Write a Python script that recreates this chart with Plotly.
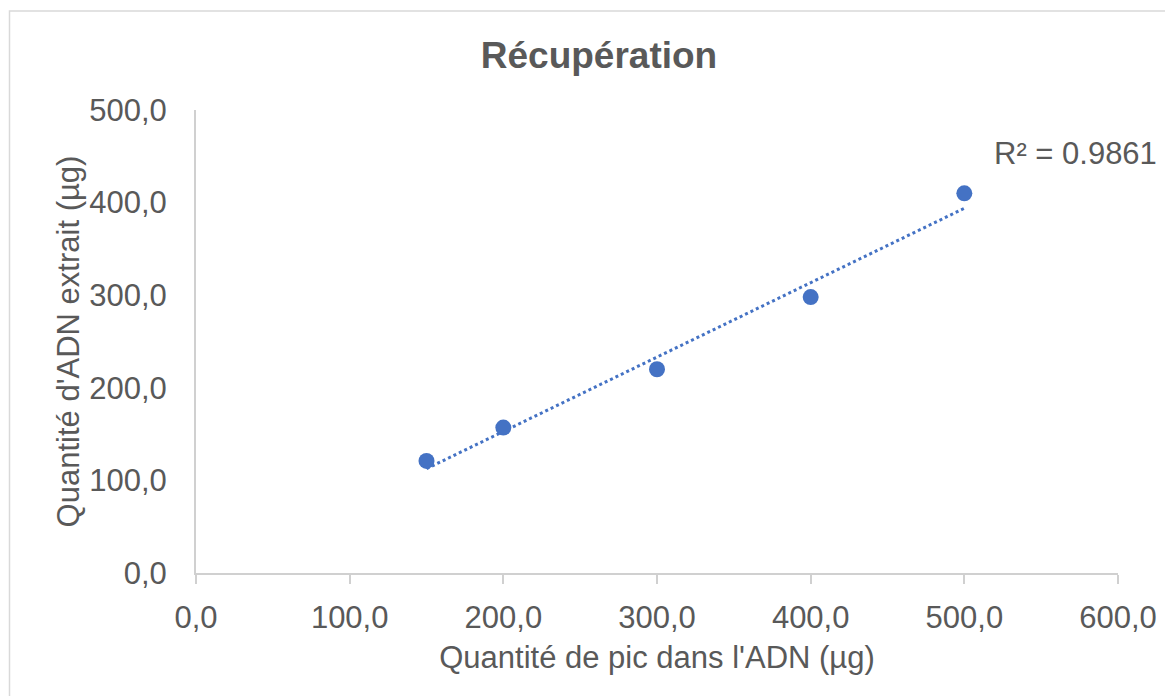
import numpy as np
import plotly.graph_objects as go

# Data
spike_ug = [150, 200, 300, 400, 500]
extracted_ug = [121, 157, 220, 298, 410]
r2_label = "R² = 0.9861"
title_text = "Récupération"
x_title = "Quantité de pic dans l'ADN (µg)"
y_title = "Quantité d'ADN extrait (µg)"

OFF = 8  # page body margin
W, H = 1173, 696
L, R, T, B = 196 - OFF, 1173 - (1118 - OFF), 110 - OFF, 696 - (573 - OFF)
pw, ph = W - L - R, H - T - B

slope, intercept = np.polyfit(spike_ug, extracted_ug, 1)
tx = [min(spike_ug), max(spike_ug)]
ty = [slope * v + intercept for v in tx]

blue = "#4472C4"
txt = "#595959"
axc = "#d0d0d0"
font = "Liberation Sans, Arial, sans-serif"

fig = go.Figure()
fig.add_trace(go.Scatter(x=tx, y=ty, mode="lines",
                         line=dict(color=blue, width=3, dash="dot"),
                         hoverinfo="skip", showlegend=False))
fig.add_trace(go.Scatter(x=spike_ug, y=extracted_ug, mode="markers",
                         marker=dict(color=blue, size=16),
                         showlegend=False))

fig.add_annotation(x=518, y=453, xref="x", yref="y", text=r2_label,
                   showarrow=False, xanchor="left", yanchor="middle",
                   font=dict(size=31, color=txt, family=font))

# chart border (reference-page pixel coords)
def px2x(p):
    return (p - OFF - L) / pw

def py2y(p):
    return (H - B - (p - OFF)) / ph

fig.add_shape(type="rect", xref="paper", yref="paper",
              x0=px2x(9.5), x1=px2x(1220), y0=py2y(11), y1=py2y(740),
              line=dict(color="#d9d9d9", width=1.5), layer="below")

fig.update_layout(
    width=W, height=H,
    margin=dict(l=L, r=R, t=T, b=B),
    paper_bgcolor="white", plot_bgcolor="white",
    separators=", ",
    title=dict(text="<b>" + title_text + "</b>", x=(599 - OFF) / W, xanchor="center",
               y=1 - (55 - OFF) / H, yanchor="middle", yref="container",
               font=dict(size=37, color=txt, family=font)),
    font=dict(family=font, color=txt, size=31),
)
fig.update_xaxes(range=[0, 600], dtick=100, tick0=0, tickformat=".1f",
                 showgrid=False, zeroline=False, showline=True, linecolor=axc,
                 linewidth=2, ticks="outside", ticklen=9, tickcolor=axc, tickwidth=2,
                 ticklabelstandoff=7,
                 tickfont=dict(size=31, color=txt),
                 title=dict(text=x_title, font=dict(size=31, color=txt), standoff=12))
fig.update_yaxes(range=[0, 500], dtick=100, tick0=0, tickformat=".1f",
                 showgrid=False, zeroline=False, showline=True, linecolor=axc,
                 linewidth=2, ticks="", ticklabelstandoff=21,
                 tickfont=dict(size=31, color=txt),
                 title=dict(text=y_title, font=dict(size=31, color=txt), standoff=0))

fig.write_html("out.html")
